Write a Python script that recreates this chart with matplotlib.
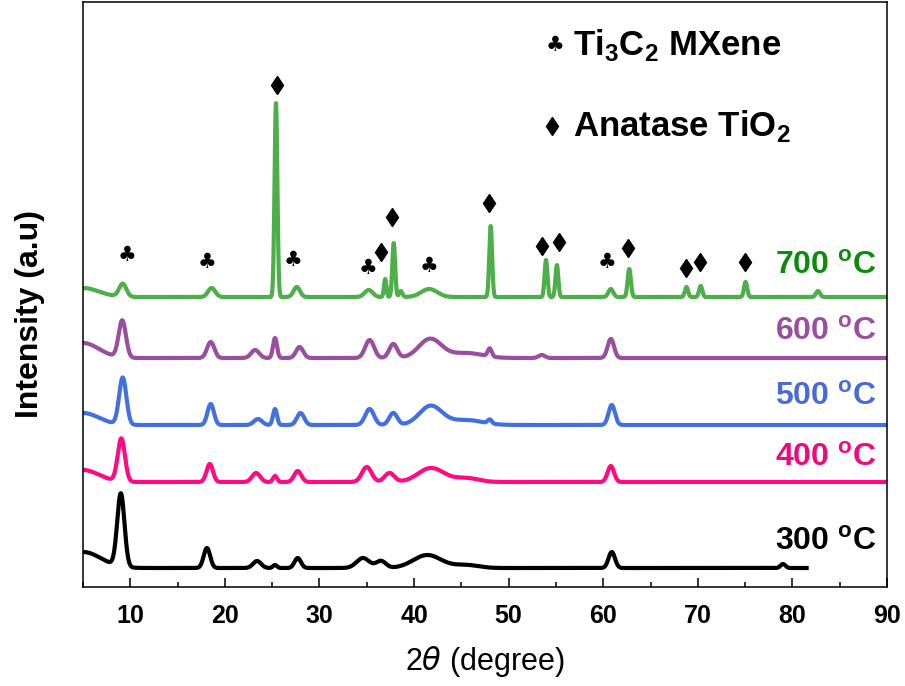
import numpy as np
import matplotlib
matplotlib.use("Agg")
import matplotlib.pyplot as plt
from matplotlib.ticker import MultipleLocator

# XRD of Ti3C2 annealed at different temperatures
# peaks: (2theta, height above baseline, fwhm), heights in plot units
temps = ["300", "400", "500", "600", "700"]
baselines = [19, 105, 162, 229, 290]
x_end = [81.5, 90, 90, 90, 90]

peaks_300 = [(5, 16, 4.5), (9.0, 73, 0.9), (18.1, 20, 0.8), (23.4, 7, 1.0), (25.3, 3, 0.5),
             (27.7, 10, 0.8), (34.6, 10, 1.6), (36.5, 7, 1.2), (41.4, 13, 3.5), (45.5, 3, 3),
             (60.9, 16, 0.8), (79.0, 4, 0.6)]
peaks_400 = [(5, 12, 4.0), (9.05, 43, 0.9), (18.4, 18, 0.8), (23.3, 9, 1.0), (25.3, 6, 0.5),
             (27.7, 11, 0.9), (35.0, 15, 1.2), (37.4, 9, 1.2), (41.8, 14, 3.2), (45.5, 4, 3),
             (60.8, 16, 0.8)]
peaks_500 = [(5, 12, 4.0), (9.2, 47, 0.9), (18.5, 21, 0.8), (23.5, 6, 1.0), (25.3, 16, 0.5),
             (28.0, 12, 0.9), (35.3, 16, 1.1), (37.8, 12, 1.0), (41.75, 19, 2.8), (45.5, 5, 4),
             (48.0, 4, 0.5), (60.9, 20, 0.8)]
peaks_600 = [(5, 15, 4.0), (9.15, 37, 0.9), (18.5, 16, 0.9), (23.2, 8, 1.0), (25.3, 20, 0.5),
             (27.9, 11, 0.9), (35.3, 18, 1.1), (37.8, 14, 1.0), (41.7, 19, 2.8), (45.5, 5, 4),
             (48.0, 8, 0.5), (53.5, 3, 0.8), (60.8, 19, 0.8)]
peaks_700 = [(5, 9, 4.0), (9.2, 13, 0.9), (18.6, 9, 0.9), (25.4, 194, 0.35), (27.6, 10, 0.8),
             (35.2, 7, 1.0), (36.95, 18, 0.3), (37.85, 54, 0.35), (38.6, 6, 0.4), (41.6, 8, 2.0),
             (48.1, 71, 0.35), (53.95, 37, 0.35), (55.1, 32, 0.35), (60.8, 8, 0.6),
             (62.75, 28, 0.4), (68.8, 10, 0.4), (70.3, 11, 0.4), (75.05, 15, 0.4), (82.7, 6, 0.5)]
peak_sets = [peaks_300, peaks_400, peaks_500, peaks_600, peaks_700]

line_colors = ["#000000", "#ff0a82", "#4370e0", "#9a4ea0", "#4caf4a"]
text_colors = ["#000000", "#f0087c", "#4a6ad8", "#9a4ea0", "#0b8a0b"]
label_y = [45, 129, 190, 255, 321]

# phase markers
club_x = [9.65, 18.1, 27.2, 35.1, 41.6, 60.4]
club_y = [332, 325, 327, 319, 321, 325]
diamond_x = [25.5, 36.5, 37.7, 47.9, 53.5, 55.3, 62.6, 68.7, 70.2, 75.0]
diamond_y = [502, 335, 370, 384, 341, 345, 339, 319, 325, 325]


def pattern(x, base, peaks):
    y = np.full_like(x, float(base))
    for c, h, w in peaks:
        s = w / 2.3548
        y += h * np.exp(-(x - c) ** 2 / (2 * s * s))
    return y


plt.rcParams['font.family'] = ['Liberation Sans', 'DejaVu Sans']

fig = plt.figure(figsize=(9.05, 6.86), dpi=100)
ax = fig.add_axes([83 / 905, 99 / 686, 804 / 905, 585 / 686])

for i in range(len(temps)):
    x = np.linspace(5, x_end[i], 4000)
    ax.plot(x, pattern(x, baselines[i], peak_sets[i]), color=line_colors[i], lw=3.0)
    ax.text(88.9, label_y[i], temps[i] + r" $^\mathregular{o}$C", color=text_colors[i],
            fontsize=23, fontweight='bold', ha='right', va='center')

for cx, cy in zip(club_x, club_y):
    ax.text(cx, cy, "\u2663", fontsize=15, ha='center', va='center', family='DejaVu Sans')
ax.plot(diamond_x, diamond_y, ls='none', marker='d', ms=9.5, color='black')

# legend of phases
ax.text(0.587, 0.926, "\u2663", transform=ax.transAxes, fontsize=15, ha='center', va='center',
        family='DejaVu Sans')
ax.text(0.610, 0.926, r"Ti$_\mathregular{3}$C$_\mathregular{2}$ MXene", transform=ax.transAxes,
        fontsize=25, fontweight='bold', ha='left', va='center')
ax.plot([0.583], [0.788], transform=ax.transAxes, ls='none', marker='d', ms=9.5, color='black')
ax.text(0.610, 0.788, r"Anatase TiO$_\mathregular{2}$", transform=ax.transAxes,
        fontsize=25, fontweight='bold', ha='left', va='center')

ax.set_xlim(5, 90)
ax.set_ylim(0, 585)
ax.xaxis.set_major_locator(MultipleLocator(10))
ax.xaxis.set_minor_locator(MultipleLocator(5))
ax.set_yticks([])
ax.tick_params(axis='x', which='major', direction='in', length=6.5, width=1.1, pad=12)
ax.tick_params(axis='x', which='minor', direction='in', length=3.5, width=1.1)
for lab in ax.get_xticklabels():
    lab.set_family(['Liberation Sans Narrow', 'Liberation Sans'])
    lab.set_fontweight('bold')
    lab.set_fontsize(18)
for sp in ax.spines.values():
    sp.set_linewidth(1.1)

ax.set_xlabel(r"2$\theta$ (degree)", fontsize=22, family=['Liberation Sans Narrow', 'Liberation Sans'],
              labelpad=12)
ax.set_ylabel("Intensity (a.u)", fontsize=23, fontweight='bold')
ax.yaxis.set_label_coords(-0.047, 0.467)

fig.savefig("out.png", dpi=100)
